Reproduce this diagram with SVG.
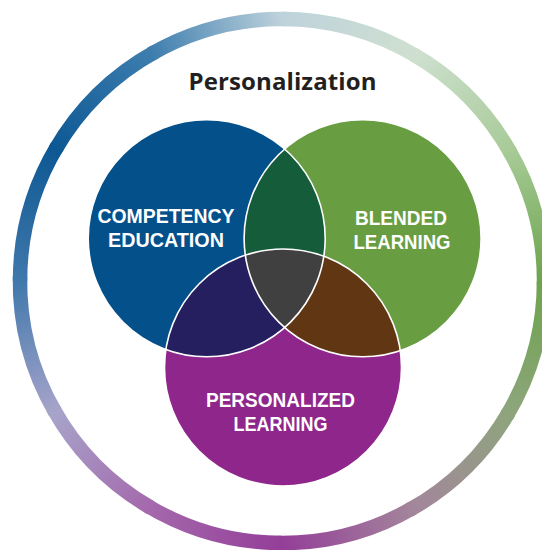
<svg xmlns="http://www.w3.org/2000/svg" width="542" height="550" viewBox="0 0 542 550">
<style>
.ring{fill:none;stroke-width:14.5;stroke-linecap:butt}
.title{font-family:"Open Sans","Liberation Sans",sans-serif;font-weight:700;font-size:24px;fill:#231f20;text-anchor:middle}
.lbl{font-family:"Liberation Sans","Open Sans",sans-serif;font-weight:700;font-size:20.5px;fill:#ffffff;text-anchor:middle}
.edge{fill:none;stroke:#ffffff;stroke-width:1.6}
</style>
<defs>
<linearGradient id="g0" gradientUnits="userSpaceOnUse" x1="282" y1="19" x2="413" y2="54.1"><stop offset="0" stop-color="#bed2dc"/><stop offset="1" stop-color="#cfe0d0"/></linearGradient>
<linearGradient id="g1" gradientUnits="userSpaceOnUse" x1="413" y1="54.1" x2="508.9" y2="150"><stop offset="0" stop-color="#cfe0d0"/><stop offset="1" stop-color="#a8cb98"/></linearGradient>
<linearGradient id="g2" gradientUnits="userSpaceOnUse" x1="508.9" y1="150" x2="544" y2="281"><stop offset="0" stop-color="#a8cb98"/><stop offset="1" stop-color="#6ca44c"/></linearGradient>
<linearGradient id="g3" gradientUnits="userSpaceOnUse" x1="544" y1="281" x2="508.9" y2="412"><stop offset="0" stop-color="#6ca44c"/><stop offset="1" stop-color="#8ea57c"/></linearGradient>
<linearGradient id="g4" gradientUnits="userSpaceOnUse" x1="508.9" y1="412" x2="413" y2="507.9"><stop offset="0" stop-color="#8ea57c"/><stop offset="1" stop-color="#a3869b"/></linearGradient>
<linearGradient id="g5" gradientUnits="userSpaceOnUse" x1="413" y1="507.9" x2="282" y2="543"><stop offset="0" stop-color="#a3869b"/><stop offset="1" stop-color="#943e98"/></linearGradient>
<linearGradient id="g6" gradientUnits="userSpaceOnUse" x1="282" y1="543" x2="151" y2="507.9"><stop offset="0" stop-color="#943e98"/><stop offset="1" stop-color="#a468ac"/></linearGradient>
<linearGradient id="g7" gradientUnits="userSpaceOnUse" x1="151" y1="507.9" x2="55.1" y2="412"><stop offset="0" stop-color="#a468ac"/><stop offset="1" stop-color="#a7a4ca"/></linearGradient>
<linearGradient id="g8" gradientUnits="userSpaceOnUse" x1="55.1" y1="412" x2="20" y2="281"><stop offset="0" stop-color="#a7a4ca"/><stop offset="1" stop-color="#4078ab"/></linearGradient>
<linearGradient id="g9" gradientUnits="userSpaceOnUse" x1="20" y1="281" x2="55.1" y2="150"><stop offset="0" stop-color="#4078ab"/><stop offset="1" stop-color="#0d5894"/></linearGradient>
<linearGradient id="g10" gradientUnits="userSpaceOnUse" x1="55.1" y1="150" x2="151" y2="54.1"><stop offset="0" stop-color="#0d5894"/><stop offset="1" stop-color="#3d7dae"/></linearGradient>
<linearGradient id="g11" gradientUnits="userSpaceOnUse" x1="151" y1="54.1" x2="282" y2="19"><stop offset="0" stop-color="#3d7dae"/><stop offset="1" stop-color="#bed2dc"/></linearGradient>
<clipPath id="cBlue"><circle cx="206.7" cy="238.3" r="118.5"/></clipPath>
<clipPath id="cGreen"><circle cx="362.6" cy="238.3" r="118.5"/></clipPath>
</defs>
<rect width="542" height="550" fill="#ffffff"/>
<g id="outer-ring">
<path class="ring" stroke="url(#g0)" d="M282 19 A262 262 0 0 1 416.9 56.4"/>
<path class="ring" stroke="url(#g1)" d="M413 54.1 A262 262 0 0 1 511.2 154"/>
<path class="ring" stroke="url(#g2)" d="M508.9 150 A262 262 0 0 1 544 285.6"/>
<path class="ring" stroke="url(#g3)" d="M544 281 A262 262 0 0 1 506.6 415.9"/>
<path class="ring" stroke="url(#g4)" d="M508.9 412 A262 262 0 0 1 409 510.2"/>
<path class="ring" stroke="url(#g5)" d="M413 507.9 A262 262 0 0 1 277.4 543"/>
<path class="ring" stroke="url(#g6)" d="M282 543 A262 262 0 0 1 147.1 505.6"/>
<path class="ring" stroke="url(#g7)" d="M151 507.9 A262 262 0 0 1 52.9 408"/>
<path class="ring" stroke="url(#g8)" d="M55.1 412 A262 262 0 0 1 20 276.4"/>
<path class="ring" stroke="url(#g9)" d="M20 281 A262 262 0 0 1 57.4 146.1"/>
<path class="ring" stroke="url(#g10)" d="M55.1 150 A262 262 0 0 1 155 51.9"/>
<path class="ring" stroke="url(#g11)" d="M151 54.1 A262 262 0 0 1 286.6 19"/>
</g>
<g id="title">
<text class="title" x="282.5" y="90" textLength="188">Personalization</text>
</g>
<g id="competency-education">
<circle cx="206.7" cy="238.3" r="118.5" fill="#03508a"/>
</g>
<g id="blended-learning">
<circle cx="362.6" cy="238.3" r="118.5" fill="#689d42"/>
</g>
<g id="personalized-learning">
<circle cx="283" cy="367.5" r="118.5" fill="#8e268b"/>
</g>
<g id="overlaps">
<circle cx="362.6" cy="238.3" r="118.5" fill="#145c3a" clip-path="url(#cBlue)"/>
<circle cx="283" cy="367.5" r="118.5" fill="#251f5f" clip-path="url(#cBlue)"/>
<circle cx="283" cy="367.5" r="118.5" fill="#603613" clip-path="url(#cGreen)"/>
<g clip-path="url(#cBlue)"><circle cx="283" cy="367.5" r="118.5" fill="#404040" clip-path="url(#cGreen)"/></g>
</g>
<g id="outlines">
<circle class="edge" cx="206.7" cy="238.3" r="118.5"/>
<circle class="edge" cx="362.6" cy="238.3" r="118.5"/>
<circle class="edge" cx="283" cy="367.5" r="118.5"/>
</g>
<g id="labels">
<text class="lbl"><tspan x="166" y="223" textLength="137" lengthAdjust="spacingAndGlyphs">COMPETENCY</tspan><tspan x="166" y="247" textLength="116" lengthAdjust="spacingAndGlyphs">EDUCATION</tspan></text>
<text class="lbl"><tspan x="401" y="225" textLength="92" lengthAdjust="spacingAndGlyphs">BLENDED</tspan><tspan x="402" y="248.5" textLength="97" lengthAdjust="spacingAndGlyphs">LEARNING</tspan></text>
<text class="lbl"><tspan x="280.5" y="406.5" textLength="149" lengthAdjust="spacingAndGlyphs">PERSONALIZED</tspan><tspan x="280.5" y="430.5" textLength="94" lengthAdjust="spacingAndGlyphs">LEARNING</tspan></text>
</g>
</svg>
